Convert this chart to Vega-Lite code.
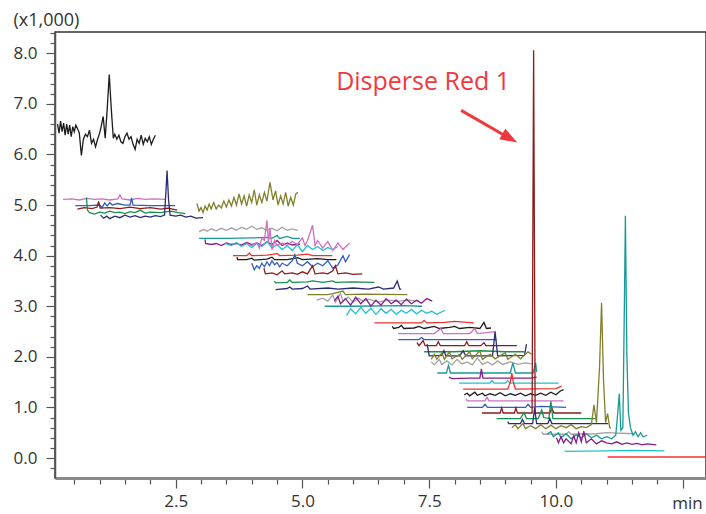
{
"$schema": "https://vega.github.io/schema/vega-lite/v6.json",
"width": 651, "height": 446,
"autosize": {"type": "none"},
"padding": {"left": 55, "top": 32, "right": 0, "bottom": 36},
"config": {"view": {"stroke": "#333333", "strokeWidth": 1.5}, "font": "Open Sans",
  "axis": {"grid": false, "labelFont": "Open Sans", "labelFontSize": 17, "labelColor": "#333333", "tickColor": "#555555", "tickWidth": 1.2, "titleFont": "Open Sans", "titleFontSize": 17, "titleFontWeight": "normal", "titleColor": "#333333"}},
"layer": [
{
"data": {"values": [
{"s":1,"x":0.17,"y":6.6},{"s":1,"x":0.2,"y":6.42},{"s":1,"x":0.23,"y":6.66},{"s":1,"x":0.26,"y":6.45},{"s":1,"x":0.29,"y":6.62},{"s":1,"x":0.32,"y":6.38},{"s":1,"x":0.35,"y":6.6},{"s":1,"x":0.38,"y":6.4},{"s":1,"x":0.41,"y":6.58},{"s":1,"x":0.44,"y":6.35},{"s":1,"x":0.47,"y":6.55},{"s":1,"x":0.5,"y":6.45},{"s":1,"x":0.53,"y":6.58},{"s":1,"x":0.57,"y":6.5},{"s":1,"x":0.6,"y":6.42},{"s":1,"x":0.64,"y":5.98},{"s":1,"x":0.68,"y":6.3},{"s":1,"x":0.72,"y":6.4},{"s":1,"x":0.76,"y":6.35},{"s":1,"x":0.8,"y":6.48},{"s":1,"x":0.84,"y":6.22},{"s":1,"x":0.88,"y":6.3},{"s":1,"x":0.92,"y":6.15},{"s":1,"x":0.96,"y":6.3},{"s":1,"x":1.0,"y":6.42},{"s":1,"x":1.03,"y":6.55},{"s":1,"x":1.07,"y":6.75},{"s":1,"x":1.11,"y":6.32},{"s":1,"x":1.15,"y":6.9},{"s":1,"x":1.19,"y":7.58},{"s":1,"x":1.23,"y":6.9},{"s":1,"x":1.27,"y":6.32},{"s":1,"x":1.3,"y":6.4},{"s":1,"x":1.34,"y":6.3},{"s":1,"x":1.38,"y":6.38},{"s":1,"x":1.42,"y":6.25},{"s":1,"x":1.46,"y":6.22},{"s":1,"x":1.5,"y":6.35},{"s":1,"x":1.54,"y":6.42},{"s":1,"x":1.58,"y":6.3},{"s":1,"x":1.62,"y":6.35},{"s":1,"x":1.66,"y":6.2},{"s":1,"x":1.7,"y":6.1},{"s":1,"x":1.74,"y":6.3},{"s":1,"x":1.78,"y":6.22},{"s":1,"x":1.82,"y":6.38},{"s":1,"x":1.86,"y":6.2},{"s":1,"x":1.9,"y":6.32},{"s":1,"x":1.94,"y":6.25},{"s":1,"x":1.98,"y":6.35},{"s":1,"x":2.02,"y":6.2},{"s":1,"x":2.06,"y":6.3},{"s":1,"x":2.1,"y":6.38},
{"s":2,"x":0.28,"y":5.11},{"s":2,"x":0.45,"y":5.12},{"s":2,"x":0.6,"y":5.1},{"s":2,"x":0.75,"y":5.13},{"s":2,"x":0.9,"y":5.11},{"s":2,"x":1.05,"y":5.12},{"s":2,"x":1.2,"y":5.1},{"s":2,"x":1.36,"y":5.12},{"s":2,"x":1.4,"y":5.2},{"s":2,"x":1.44,"y":5.12},{"s":2,"x":1.6,"y":5.1},{"s":2,"x":1.75,"y":5.13},{"s":2,"x":1.9,"y":5.11},{"s":2,"x":2.05,"y":5.12},{"s":2,"x":2.3,"y":5.11},
{"s":3,"x":0.52,"y":4.99},{"s":3,"x":0.8,"y":4.99},{"s":3,"x":1.0,"y":5.0},{"s":3,"x":1.05,"y":4.95},{"s":3,"x":1.1,"y":5.04},{"s":3,"x":1.15,"y":4.98},{"s":3,"x":1.2,"y":5.05},{"s":3,"x":1.25,"y":5.0},{"s":3,"x":1.35,"y":5.03},{"s":3,"x":1.5,"y":5.0},{"s":3,"x":1.6,"y":5.0},{"s":3,"x":1.63,"y":5.14},{"s":3,"x":1.66,"y":5.0},{"s":3,"x":2.0,"y":4.99},{"s":3,"x":2.49,"y":4.99},
{"s":4,"x":0.56,"y":4.92},{"s":4,"x":0.7,"y":4.95},{"s":4,"x":0.85,"y":4.93},{"s":4,"x":0.95,"y":4.96},{"s":4,"x":0.98,"y":5.07},{"s":4,"x":1.01,"y":4.94},{"s":4,"x":1.2,"y":4.95},{"s":4,"x":1.4,"y":4.93},{"s":4,"x":1.6,"y":4.96},{"s":4,"x":1.8,"y":4.93},{"s":4,"x":2.0,"y":4.95},{"s":4,"x":2.2,"y":4.92},{"s":4,"x":2.35,"y":4.94},{"s":4,"x":2.53,"y":4.9},
{"s":5,"x":0.74,"y":5.15},{"s":5,"x":0.76,"y":4.9},{"s":5,"x":0.8,"y":4.85},{"s":5,"x":0.9,"y":4.82},{"s":5,"x":1.0,"y":4.86},{"s":5,"x":1.1,"y":4.84},{"s":5,"x":1.2,"y":4.88},{"s":5,"x":1.3,"y":4.85},{"s":5,"x":1.4,"y":4.86},{"s":5,"x":1.5,"y":4.83},{"s":5,"x":1.6,"y":4.87},{"s":5,"x":1.7,"y":4.85},{"s":5,"x":1.8,"y":4.9},{"s":5,"x":1.9,"y":4.84},{"s":5,"x":2.0,"y":4.86},{"s":5,"x":2.2,"y":4.85},{"s":5,"x":2.4,"y":4.88},{"s":5,"x":2.55,"y":4.85},{"s":5,"x":2.69,"y":4.83},
{"s":6,"x":1.02,"y":4.8},{"s":6,"x":1.08,"y":4.74},{"s":6,"x":1.14,"y":4.78},{"s":6,"x":1.2,"y":4.73},{"s":6,"x":1.3,"y":4.78},{"s":6,"x":1.4,"y":4.75},{"s":6,"x":1.5,"y":4.8},{"s":6,"x":1.6,"y":4.76},{"s":6,"x":1.7,"y":4.79},{"s":6,"x":1.8,"y":4.75},{"s":6,"x":1.9,"y":4.78},{"s":6,"x":2.0,"y":4.76},{"s":6,"x":2.1,"y":4.79},{"s":6,"x":2.2,"y":4.77},{"s":6,"x":2.28,"y":4.8},{"s":6,"x":2.31,"y":5.3},{"s":6,"x":2.33,"y":5.68},{"s":6,"x":2.36,"y":5.1},{"s":6,"x":2.39,"y":4.8},{"s":6,"x":2.5,"y":4.78},{"s":6,"x":2.6,"y":4.8},{"s":6,"x":2.7,"y":4.76},{"s":6,"x":2.8,"y":4.78},{"s":6,"x":2.9,"y":4.74},{"s":6,"x":3.04,"y":4.75},
{"s":7,"x":2.92,"y":5.03},{"s":7,"x":2.96,"y":4.88},{"s":7,"x":3.0,"y":4.95},{"s":7,"x":3.04,"y":4.85},{"s":7,"x":3.08,"y":4.98},{"s":7,"x":3.12,"y":4.9},{"s":7,"x":3.16,"y":5.02},{"s":7,"x":3.2,"y":4.92},{"s":7,"x":3.25,"y":5.05},{"s":7,"x":3.3,"y":4.92},{"s":7,"x":3.35,"y":5.0},{"s":7,"x":3.4,"y":4.94},{"s":7,"x":3.45,"y":5.08},{"s":7,"x":3.5,"y":4.96},{"s":7,"x":3.55,"y":5.1},{"s":7,"x":3.6,"y":4.98},{"s":7,"x":3.65,"y":5.15},{"s":7,"x":3.7,"y":5.0},{"s":7,"x":3.75,"y":5.22},{"s":7,"x":3.8,"y":5.02},{"s":7,"x":3.85,"y":5.18},{"s":7,"x":3.9,"y":4.98},{"s":7,"x":3.95,"y":5.2},{"s":7,"x":4.0,"y":5.05},{"s":7,"x":4.05,"y":5.3},{"s":7,"x":4.1,"y":5.0},{"s":7,"x":4.15,"y":5.2},{"s":7,"x":4.2,"y":5.05},{"s":7,"x":4.25,"y":5.25},{"s":7,"x":4.3,"y":5.08},{"s":7,"x":4.36,"y":5.45},{"s":7,"x":4.42,"y":5.1},{"s":7,"x":4.47,"y":5.28},{"s":7,"x":4.52,"y":5.0},{"s":7,"x":4.57,"y":5.18},{"s":7,"x":4.62,"y":5.02},{"s":7,"x":4.67,"y":5.25},{"s":7,"x":4.72,"y":4.98},{"s":7,"x":4.77,"y":5.15},{"s":7,"x":4.82,"y":5.0},{"s":7,"x":4.87,"y":5.22},{"s":7,"x":4.91,"y":5.25},
{"s":8,"x":2.96,"y":4.47},{"s":8,"x":3.05,"y":4.52},{"s":8,"x":3.12,"y":4.48},{"s":8,"x":3.2,"y":4.53},{"s":8,"x":3.3,"y":4.49},{"s":8,"x":3.4,"y":4.54},{"s":8,"x":3.5,"y":4.5},{"s":8,"x":3.6,"y":4.55},{"s":8,"x":3.7,"y":4.5},{"s":8,"x":3.8,"y":4.56},{"s":8,"x":3.9,"y":4.52},{"s":8,"x":4.0,"y":4.58},{"s":8,"x":4.1,"y":4.52},{"s":8,"x":4.2,"y":4.55},{"s":8,"x":4.3,"y":4.5},{"s":8,"x":4.4,"y":4.54},{"s":8,"x":4.5,"y":4.49},{"s":8,"x":4.6,"y":4.56},{"s":8,"x":4.7,"y":4.5},{"s":8,"x":4.8,"y":4.53},{"s":8,"x":4.91,"y":4.5},
{"s":9,"x":2.96,"y":4.34},{"s":9,"x":3.5,"y":4.34},{"s":9,"x":4.0,"y":4.35},{"s":9,"x":4.3,"y":4.36},{"s":9,"x":4.4,"y":4.34},{"s":9,"x":4.5,"y":4.4},{"s":9,"x":4.55,"y":4.34},{"s":9,"x":4.7,"y":4.38},{"s":9,"x":4.8,"y":4.34},{"s":9,"x":4.95,"y":4.34},
{"s":10,"x":3.08,"y":4.32},{"s":10,"x":3.09,"y":4.24},{"s":10,"x":3.2,"y":4.22},{"s":10,"x":3.3,"y":4.24},{"s":10,"x":3.4,"y":4.2},{"s":10,"x":3.5,"y":4.25},{"s":10,"x":3.6,"y":4.22},{"s":10,"x":3.7,"y":4.24},{"s":10,"x":3.8,"y":4.21},{"s":10,"x":3.9,"y":4.26},{"s":10,"x":4.0,"y":4.22},{"s":10,"x":4.1,"y":4.25},{"s":10,"x":4.2,"y":4.2},{"s":10,"x":4.3,"y":4.27},{"s":10,"x":4.4,"y":4.22},{"s":10,"x":4.5,"y":4.3},{"s":10,"x":4.6,"y":4.2},{"s":10,"x":4.7,"y":4.25},{"s":10,"x":4.8,"y":4.21},{"s":10,"x":4.95,"y":4.23},
{"s":11,"x":3.47,"y":4.24},{"s":11,"x":3.6,"y":4.2},{"s":11,"x":3.7,"y":4.26},{"s":11,"x":3.8,"y":4.18},{"s":11,"x":3.9,"y":4.24},{"s":11,"x":4.0,"y":4.16},{"s":11,"x":4.1,"y":4.24},{"s":11,"x":4.2,"y":4.18},{"s":11,"x":4.3,"y":4.28},{"s":11,"x":4.4,"y":4.15},{"s":11,"x":4.5,"y":4.22},{"s":11,"x":4.6,"y":4.12},{"s":11,"x":4.7,"y":4.2},{"s":11,"x":4.8,"y":4.1},{"s":11,"x":4.9,"y":4.22},{"s":11,"x":5.0,"y":4.08},{"s":11,"x":5.1,"y":4.2},{"s":11,"x":5.2,"y":4.12},{"s":11,"x":5.3,"y":4.18},{"s":11,"x":5.4,"y":4.1},{"s":11,"x":5.5,"y":4.16},{"s":11,"x":5.6,"y":4.12},{"s":11,"x":5.7,"y":4.18},
{"s":12,"x":3.63,"y":4.0},{"s":12,"x":3.9,"y":4.0},{"s":12,"x":3.95,"y":4.05},{"s":12,"x":4.0,"y":4.0},{"s":12,"x":4.3,"y":4.01},{"s":12,"x":4.5,"y":4.04},{"s":12,"x":4.55,"y":4.0},{"s":12,"x":4.9,"y":4.01},{"s":12,"x":5.1,"y":4.03},{"s":12,"x":5.2,"y":4.0},{"s":12,"x":5.59,"y":4.0},
{"s":13,"x":3.71,"y":3.97},{"s":13,"x":3.72,"y":3.92},{"s":13,"x":3.9,"y":3.92},{"s":13,"x":4.0,"y":3.95},{"s":13,"x":4.05,"y":3.91},{"s":13,"x":4.3,"y":3.93},{"s":13,"x":4.4,"y":3.97},{"s":13,"x":4.45,"y":3.92},{"s":13,"x":4.7,"y":3.92},{"s":13,"x":4.9,"y":3.96},{"s":13,"x":5.0,"y":3.92},{"s":13,"x":5.3,"y":3.94},{"s":13,"x":5.5,"y":3.92},{"s":13,"x":5.67,"y":3.92},
{"s":14,"x":3.9,"y":4.24},{"s":14,"x":4.0,"y":4.2},{"s":14,"x":4.1,"y":4.26},{"s":14,"x":4.15,"y":4.15},{"s":14,"x":4.2,"y":4.35},{"s":14,"x":4.25,"y":4.3},{"s":14,"x":4.3,"y":4.7},{"s":14,"x":4.33,"y":4.25},{"s":14,"x":4.36,"y":4.55},{"s":14,"x":4.4,"y":4.12},{"s":14,"x":4.45,"y":4.3},{"s":14,"x":4.5,"y":4.2},{"s":14,"x":4.6,"y":4.25},{"s":14,"x":4.7,"y":4.2},{"s":14,"x":4.8,"y":4.28},{"s":14,"x":4.9,"y":4.22},{"s":14,"x":5.0,"y":4.35},{"s":14,"x":5.05,"y":4.2},{"s":14,"x":5.1,"y":4.3},{"s":14,"x":5.2,"y":4.6},{"s":14,"x":5.25,"y":4.2},{"s":14,"x":5.3,"y":4.3},{"s":14,"x":5.4,"y":4.15},{"s":14,"x":5.5,"y":4.28},{"s":14,"x":5.6,"y":4.1},{"s":14,"x":5.7,"y":4.25},{"s":14,"x":5.8,"y":4.12},{"s":14,"x":5.9,"y":4.22},{"s":14,"x":5.93,"y":4.25},
{"s":15,"x":4.0,"y":3.85},{"s":15,"x":4.05,"y":3.72},{"s":15,"x":4.1,"y":3.8},{"s":15,"x":4.15,"y":3.75},{"s":15,"x":4.2,"y":3.85},{"s":15,"x":4.25,"y":3.78},{"s":15,"x":4.3,"y":3.88},{"s":15,"x":4.35,"y":3.8},{"s":15,"x":4.4,"y":3.9},{"s":15,"x":4.45,"y":3.82},{"s":15,"x":4.5,"y":3.86},{"s":15,"x":4.55,"y":3.78},{"s":15,"x":4.6,"y":3.85},{"s":15,"x":4.7,"y":3.8},{"s":15,"x":4.8,"y":3.9},{"s":15,"x":4.85,"y":4.02},{"s":15,"x":4.9,"y":3.85},{"s":15,"x":5.0,"y":3.8},{"s":15,"x":5.1,"y":3.88},{"s":15,"x":5.2,"y":3.78},{"s":15,"x":5.3,"y":3.85},{"s":15,"x":5.4,"y":3.8},{"s":15,"x":5.5,"y":3.9},{"s":15,"x":5.6,"y":3.75},{"s":15,"x":5.7,"y":3.82},{"s":15,"x":5.8,"y":4.0},{"s":15,"x":5.85,"y":3.88},{"s":15,"x":5.93,"y":4.02},
{"s":16,"x":4.24,"y":3.75},{"s":16,"x":4.27,"y":3.64},{"s":16,"x":4.4,"y":3.66},{"s":16,"x":4.5,"y":3.62},{"s":16,"x":4.6,"y":3.7},{"s":16,"x":4.65,"y":3.64},{"s":16,"x":4.8,"y":3.66},{"s":16,"x":4.9,"y":3.63},{"s":16,"x":5.0,"y":3.68},{"s":16,"x":5.1,"y":3.64},{"s":16,"x":5.2,"y":3.8},{"s":16,"x":5.25,"y":3.64},{"s":16,"x":5.4,"y":3.66},{"s":16,"x":5.5,"y":3.64},{"s":16,"x":5.6,"y":3.7},{"s":16,"x":5.65,"y":3.8},{"s":16,"x":5.7,"y":3.64},{"s":16,"x":5.85,"y":3.66},{"s":16,"x":6.0,"y":3.63},{"s":16,"x":6.18,"y":3.64},
{"s":17,"x":4.45,"y":3.5},{"s":17,"x":4.47,"y":3.46},{"s":17,"x":4.7,"y":3.47},{"s":17,"x":4.75,"y":3.52},{"s":17,"x":4.8,"y":3.47},{"s":17,"x":5.1,"y":3.48},{"s":17,"x":5.2,"y":3.5},{"s":17,"x":5.4,"y":3.47},{"s":17,"x":5.6,"y":3.5},{"s":17,"x":5.65,"y":3.47},{"s":17,"x":6.0,"y":3.48},{"s":17,"x":6.42,"y":3.47},
{"s":18,"x":4.47,"y":3.33},{"s":18,"x":4.7,"y":3.35},{"s":18,"x":4.75,"y":3.38},{"s":18,"x":4.8,"y":3.34},{"s":18,"x":5.0,"y":3.35},{"s":18,"x":5.1,"y":3.4},{"s":18,"x":5.15,"y":3.34},{"s":18,"x":5.5,"y":3.36},{"s":18,"x":5.7,"y":3.34},{"s":18,"x":6.0,"y":3.36},{"s":18,"x":6.3,"y":3.34},{"s":18,"x":6.5,"y":3.38},{"s":18,"x":6.6,"y":3.34},{"s":18,"x":6.8,"y":3.36},{"s":18,"x":6.87,"y":3.5},{"s":18,"x":6.92,"y":3.34},{"s":18,"x":6.95,"y":3.34},
{"s":19,"x":5.1,"y":3.23},{"s":19,"x":5.5,"y":3.23},{"s":19,"x":5.6,"y":3.25},{"s":19,"x":5.8,"y":3.3},{"s":19,"x":5.85,"y":3.23},{"s":19,"x":6.2,"y":3.24},{"s":19,"x":7.07,"y":3.23},
{"s":20,"x":5.28,"y":3.12},{"s":20,"x":5.4,"y":3.16},{"s":20,"x":5.5,"y":3.1},{"s":20,"x":5.6,"y":3.22},{"s":20,"x":5.65,"y":3.08},{"s":20,"x":5.75,"y":3.25},{"s":20,"x":5.8,"y":3.1},{"s":20,"x":5.9,"y":3.18},{"s":20,"x":6.0,"y":3.08},{"s":20,"x":6.1,"y":3.16},{"s":20,"x":6.2,"y":3.1},{"s":20,"x":6.3,"y":3.14},{"s":20,"x":6.5,"y":3.08},{"s":20,"x":6.7,"y":3.12},{"s":20,"x":6.9,"y":3.1},{"s":20,"x":7.1,"y":3.12},{"s":20,"x":7.3,"y":3.1},
{"s":21,"x":5.44,"y":3.0},{"s":21,"x":6.0,"y":3.0},{"s":21,"x":7.0,"y":3.01},{"s":21,"x":7.36,"y":3.0},
{"s":22,"x":5.63,"y":3.1},{"s":22,"x":5.7,"y":3.2},{"s":22,"x":5.75,"y":3.05},{"s":22,"x":5.85,"y":3.15},{"s":22,"x":5.95,"y":3.02},{"s":22,"x":6.05,"y":3.18},{"s":22,"x":6.15,"y":3.05},{"s":22,"x":6.25,"y":3.15},{"s":22,"x":6.35,"y":3.0},{"s":22,"x":6.45,"y":3.12},{"s":22,"x":6.55,"y":3.02},{"s":22,"x":6.65,"y":3.15},{"s":22,"x":6.75,"y":3.05},{"s":22,"x":6.85,"y":3.12},{"s":22,"x":6.95,"y":3.03},{"s":22,"x":7.05,"y":3.14},{"s":22,"x":7.15,"y":3.05},{"s":22,"x":7.25,"y":3.12},{"s":22,"x":7.35,"y":3.06},{"s":22,"x":7.45,"y":3.15},{"s":22,"x":7.56,"y":3.1},
{"s":23,"x":5.87,"y":2.82},{"s":23,"x":5.95,"y":2.95},{"s":23,"x":6.05,"y":2.85},{"s":23,"x":6.15,"y":2.98},{"s":23,"x":6.25,"y":2.86},{"s":23,"x":6.35,"y":2.96},{"s":23,"x":6.45,"y":2.84},{"s":23,"x":6.55,"y":2.95},{"s":23,"x":6.65,"y":2.86},{"s":23,"x":6.75,"y":2.94},{"s":23,"x":6.85,"y":2.84},{"s":23,"x":6.95,"y":2.92},{"s":23,"x":7.05,"y":2.86},{"s":23,"x":7.15,"y":2.94},{"s":23,"x":7.25,"y":2.85},{"s":23,"x":7.35,"y":2.92},{"s":23,"x":7.45,"y":2.86},{"s":23,"x":7.55,"y":2.9},{"s":23,"x":7.65,"y":2.84},{"s":23,"x":7.81,"y":2.92},
{"s":24,"x":6.42,"y":2.67},{"s":24,"x":7.35,"y":2.67},{"s":24,"x":7.4,"y":2.72},{"s":24,"x":7.45,"y":2.67},{"s":24,"x":7.8,"y":2.68},{"s":24,"x":8.0,"y":2.7},{"s":24,"x":8.38,"y":2.67},
{"s":25,"x":6.77,"y":2.6},{"s":25,"x":6.8,"y":2.56},{"s":25,"x":6.9,"y":2.58},{"s":25,"x":6.95,"y":2.62},{"s":25,"x":7.0,"y":2.56},{"s":25,"x":7.2,"y":2.57},{"s":25,"x":7.3,"y":2.6},{"s":25,"x":7.4,"y":2.56},{"s":25,"x":7.6,"y":2.6},{"s":25,"x":7.7,"y":2.56},{"s":25,"x":7.9,"y":2.58},{"s":25,"x":8.0,"y":2.6},{"s":25,"x":8.1,"y":2.56},{"s":25,"x":8.3,"y":2.58},{"s":25,"x":8.5,"y":2.56},{"s":25,"x":8.58,"y":2.68},{"s":25,"x":8.63,"y":2.56},{"s":25,"x":8.72,"y":2.57},
{"s":26,"x":6.89,"y":2.46},{"s":26,"x":7.6,"y":2.46},{"s":26,"x":7.73,"y":2.56},{"s":26,"x":7.78,"y":2.46},{"s":26,"x":8.3,"y":2.46},{"s":26,"x":8.4,"y":2.56},{"s":26,"x":8.45,"y":2.46},{"s":26,"x":8.81,"y":2.5},
{"s":27,"x":6.89,"y":2.34},{"s":27,"x":7.3,"y":2.34},{"s":27,"x":7.35,"y":2.38},{"s":27,"x":7.4,"y":2.34},{"s":27,"x":8.6,"y":2.34},{"s":27,"x":8.83,"y":2.34},
{"s":28,"x":7.26,"y":2.28},{"s":28,"x":7.3,"y":2.22},{"s":28,"x":7.38,"y":2.32},{"s":28,"x":7.42,"y":2.22},{"s":28,"x":7.64,"y":2.22},{"s":28,"x":7.68,"y":2.3},{"s":28,"x":7.72,"y":2.22},{"s":28,"x":8.2,"y":2.22},{"s":28,"x":8.24,"y":2.3},{"s":28,"x":8.28,"y":2.22},{"s":28,"x":8.52,"y":2.22},{"s":28,"x":8.58,"y":2.28},{"s":28,"x":8.62,"y":2.22},{"s":28,"x":9.23,"y":2.22},
{"s":29,"x":7.4,"y":2.1},{"s":29,"x":8.0,"y":2.1},{"s":29,"x":8.5,"y":2.12},{"s":29,"x":9.0,"y":2.1},{"s":29,"x":9.38,"y":2.1},
{"s":30,"x":7.46,"y":2.25},{"s":30,"x":7.5,"y":2.02},{"s":30,"x":7.75,"y":2.03},{"s":30,"x":7.79,"y":2.12},{"s":30,"x":7.83,"y":2.02},{"s":30,"x":8.1,"y":2.02},{"s":30,"x":8.17,"y":2.12},{"s":30,"x":8.22,"y":2.02},{"s":30,"x":8.75,"y":2.02},{"s":30,"x":8.8,"y":2.5},{"s":30,"x":8.85,"y":2.02},{"s":30,"x":9.38,"y":2.03},{"s":30,"x":9.42,"y":2.25},
{"s":31,"x":7.54,"y":1.95},{"s":31,"x":7.6,"y":2.05},{"s":31,"x":7.65,"y":1.95},{"s":31,"x":7.75,"y":2.08},{"s":31,"x":7.8,"y":1.95},{"s":31,"x":7.9,"y":2.1},{"s":31,"x":7.95,"y":1.96},{"s":31,"x":8.1,"y":2.05},{"s":31,"x":8.15,"y":1.95},{"s":31,"x":8.3,"y":2.1},{"s":31,"x":8.35,"y":1.96},{"s":31,"x":8.5,"y":2.12},{"s":31,"x":8.55,"y":1.95},{"s":31,"x":8.7,"y":2.05},{"s":31,"x":8.8,"y":1.96},{"s":31,"x":9.0,"y":2.08},{"s":31,"x":9.05,"y":1.95},{"s":31,"x":9.2,"y":2.05},{"s":31,"x":9.3,"y":1.96},{"s":31,"x":9.45,"y":2.1},{"s":31,"x":9.52,"y":2.05},
{"s":32,"x":7.54,"y":1.9},{"s":32,"x":7.6,"y":1.84},{"s":32,"x":7.7,"y":1.95},{"s":32,"x":7.75,"y":1.85},{"s":32,"x":7.85,"y":1.92},{"s":32,"x":7.95,"y":1.84},{"s":32,"x":8.05,"y":1.95},{"s":32,"x":8.15,"y":1.86},{"s":32,"x":8.25,"y":1.9},{"s":32,"x":8.35,"y":1.84},{"s":32,"x":8.45,"y":1.98},{"s":32,"x":8.55,"y":1.85},{"s":32,"x":8.65,"y":1.9},{"s":32,"x":8.75,"y":1.84},{"s":32,"x":8.85,"y":1.92},{"s":32,"x":8.95,"y":1.85},{"s":32,"x":9.1,"y":1.9},{"s":32,"x":9.25,"y":1.85},{"s":32,"x":9.4,"y":1.88},{"s":32,"x":9.52,"y":1.86},
{"s":33,"x":7.66,"y":1.68},{"s":33,"x":7.84,"y":1.68},{"s":33,"x":7.88,"y":1.83},{"s":33,"x":7.92,"y":1.68},{"s":33,"x":9.1,"y":1.68},{"s":33,"x":9.15,"y":1.88},{"s":33,"x":9.2,"y":1.68},{"s":33,"x":9.55,"y":1.68},{"s":33,"x":9.6,"y":1.88},{"s":33,"x":9.62,"y":1.7},
{"s":34,"x":7.89,"y":1.6},{"s":34,"x":7.95,"y":1.57},{"s":34,"x":8.3,"y":1.58},{"s":34,"x":8.5,"y":1.58},{"s":34,"x":8.53,"y":1.76},{"s":34,"x":8.56,"y":1.58},{"s":34,"x":9.2,"y":1.58},{"s":34,"x":9.5,"y":1.58},{"s":34,"x":9.62,"y":1.6},
{"s":35,"x":8.09,"y":1.48},{"s":35,"x":8.7,"y":1.48},{"s":35,"x":8.74,"y":1.53},{"s":35,"x":8.78,"y":1.48},{"s":35,"x":9.0,"y":1.48},{"s":35,"x":9.05,"y":1.53},{"s":35,"x":9.1,"y":1.48},{"s":35,"x":10.05,"y":1.48},
{"s":36,"x":8.17,"y":1.36},{"s":36,"x":9.05,"y":1.36},{"s":36,"x":9.1,"y":1.5},{"s":36,"x":9.13,"y":1.68},{"s":36,"x":9.16,"y":1.5},{"s":36,"x":9.2,"y":1.36},{"s":36,"x":10.0,"y":1.37},{"s":36,"x":10.11,"y":1.42},
{"s":37,"x":8.19,"y":1.25},{"s":37,"x":8.25,"y":1.28},{"s":37,"x":8.3,"y":1.23},{"s":37,"x":8.4,"y":1.3},{"s":37,"x":8.45,"y":1.24},{"s":37,"x":8.55,"y":1.28},{"s":37,"x":8.6,"y":1.23},{"s":37,"x":8.7,"y":1.27},{"s":37,"x":8.8,"y":1.24},{"s":37,"x":8.9,"y":1.29},{"s":37,"x":9.0,"y":1.23},{"s":37,"x":9.1,"y":1.27},{"s":37,"x":9.2,"y":1.24},{"s":37,"x":9.3,"y":1.28},{"s":37,"x":9.4,"y":1.23},{"s":37,"x":9.5,"y":1.27},{"s":37,"x":9.6,"y":1.24},{"s":37,"x":9.7,"y":1.28},{"s":37,"x":9.8,"y":1.24},{"s":37,"x":9.9,"y":1.3},{"s":37,"x":10.0,"y":1.25},{"s":37,"x":10.08,"y":1.32},{"s":37,"x":10.15,"y":1.35},
{"s":38,"x":8.23,"y":1.17},{"s":38,"x":8.25,"y":1.13},{"s":38,"x":8.6,"y":1.13},{"s":38,"x":8.64,"y":1.2},{"s":38,"x":8.68,"y":1.13},{"s":38,"x":10.15,"y":1.13},
{"s":39,"x":8.25,"y":1.0},{"s":39,"x":8.55,"y":1.0},{"s":39,"x":8.6,"y":1.06},{"s":39,"x":8.65,"y":1.0},{"s":39,"x":9.4,"y":1.0},{"s":39,"x":9.45,"y":1.06},{"s":39,"x":9.5,"y":1.0},{"s":39,"x":9.7,"y":1.02},{"s":39,"x":10.2,"y":1.0},
{"s":40,"x":8.54,"y":0.89},{"s":40,"x":8.9,"y":0.89},{"s":40,"x":8.93,"y":0.99},{"s":40,"x":8.96,"y":0.89},{"s":40,"x":9.18,"y":0.89},{"s":40,"x":9.21,"y":0.99},{"s":40,"x":9.24,"y":0.89},{"s":40,"x":9.53,"y":0.89},{"s":40,"x":9.56,"y":8.06},{"s":40,"x":9.59,"y":0.89},{"s":40,"x":9.88,"y":0.89},{"s":40,"x":9.92,"y":0.99},{"s":40,"x":9.96,"y":0.89},{"s":40,"x":10.5,"y":0.89},
{"s":41,"x":8.83,"y":0.78},{"s":41,"x":9.3,"y":0.78},{"s":41,"x":9.37,"y":0.9},{"s":41,"x":9.42,"y":0.78},{"s":41,"x":9.65,"y":0.78},{"s":41,"x":9.72,"y":0.95},{"s":41,"x":9.76,"y":0.8},{"s":41,"x":9.86,"y":0.78},{"s":41,"x":9.9,"y":1.12},{"s":41,"x":9.94,"y":0.78},{"s":41,"x":10.78,"y":0.78},
{"s":42,"x":9.05,"y":0.72},{"s":42,"x":9.07,"y":0.68},{"s":42,"x":9.3,"y":0.68},{"s":42,"x":9.34,"y":0.76},{"s":42,"x":9.38,"y":0.68},{"s":42,"x":9.54,"y":0.68},{"s":42,"x":9.58,"y":0.98},{"s":42,"x":9.62,"y":0.68},{"s":42,"x":9.84,"y":0.68},{"s":42,"x":9.88,"y":0.78},{"s":42,"x":9.92,"y":0.68},{"s":42,"x":11.03,"y":0.68},
{"s":43,"x":9.13,"y":0.6},{"s":43,"x":9.2,"y":0.66},{"s":43,"x":9.25,"y":0.58},{"s":43,"x":9.35,"y":0.68},{"s":43,"x":9.4,"y":0.58},{"s":43,"x":9.5,"y":0.64},{"s":43,"x":9.6,"y":0.58},{"s":43,"x":9.7,"y":0.66},{"s":43,"x":9.8,"y":0.58},{"s":43,"x":9.9,"y":0.65},{"s":43,"x":10.0,"y":0.58},{"s":43,"x":10.1,"y":0.64},{"s":43,"x":10.2,"y":0.6},{"s":43,"x":10.3,"y":0.66},{"s":43,"x":10.4,"y":0.58},{"s":43,"x":10.5,"y":0.62},{"s":43,"x":10.6,"y":0.6},{"s":43,"x":10.7,"y":0.66},{"s":43,"x":10.75,"y":1.05},{"s":43,"x":10.8,"y":0.7},{"s":43,"x":10.86,"y":1.8},{"s":43,"x":10.9,"y":3.07},{"s":43,"x":10.94,"y":1.5},{"s":43,"x":10.98,"y":0.7},{"s":43,"x":11.02,"y":0.88},{"s":43,"x":11.06,"y":0.6},{"s":43,"x":11.09,"y":0.59},
{"s":44,"x":9.72,"y":0.52},{"s":44,"x":9.75,"y":0.47},{"s":44,"x":10.2,"y":0.47},{"s":44,"x":10.25,"y":0.52},{"s":44,"x":10.3,"y":0.47},{"s":44,"x":10.8,"y":0.48},{"s":44,"x":11.0,"y":0.5},{"s":44,"x":11.53,"y":0.48},
{"s":45,"x":9.82,"y":0.47},{"s":45,"x":9.9,"y":0.52},{"s":45,"x":9.95,"y":0.42},{"s":45,"x":10.05,"y":0.5},{"s":45,"x":10.1,"y":0.4},{"s":45,"x":10.2,"y":0.48},{"s":45,"x":10.3,"y":0.38},{"s":45,"x":10.4,"y":0.46},{"s":45,"x":10.5,"y":0.4},{"s":45,"x":10.6,"y":0.48},{"s":45,"x":10.7,"y":0.4},{"s":45,"x":10.8,"y":0.45},{"s":45,"x":10.9,"y":0.38},{"s":45,"x":11.0,"y":0.42},{"s":45,"x":11.1,"y":0.38},{"s":45,"x":11.18,"y":0.45},{"s":45,"x":11.22,"y":0.9},{"s":45,"x":11.25,"y":1.27},{"s":45,"x":11.28,"y":0.55},{"s":45,"x":11.32,"y":0.6},{"s":45,"x":11.35,"y":3.0},{"s":45,"x":11.37,"y":4.79},{"s":45,"x":11.4,"y":2.0},{"s":45,"x":11.43,"y":0.9},{"s":45,"x":11.47,"y":0.6},{"s":45,"x":11.52,"y":0.45},{"s":45,"x":11.57,"y":0.52},{"s":45,"x":11.62,"y":0.42},{"s":45,"x":11.67,"y":0.5},{"s":45,"x":11.72,"y":0.42},{"s":45,"x":11.8,"y":0.45},
{"s":46,"x":10.01,"y":0.4},{"s":46,"x":10.05,"y":0.3},{"s":46,"x":10.1,"y":0.42},{"s":46,"x":10.15,"y":0.3},{"s":46,"x":10.2,"y":0.38},{"s":46,"x":10.3,"y":0.28},{"s":46,"x":10.35,"y":0.44},{"s":46,"x":10.4,"y":0.3},{"s":46,"x":10.45,"y":0.5},{"s":46,"x":10.5,"y":0.32},{"s":46,"x":10.55,"y":0.53},{"s":46,"x":10.6,"y":0.3},{"s":46,"x":10.7,"y":0.38},{"s":46,"x":10.8,"y":0.28},{"s":46,"x":10.9,"y":0.34},{"s":46,"x":11.0,"y":0.3},{"s":46,"x":11.1,"y":0.28},{"s":46,"x":11.2,"y":0.32},{"s":46,"x":11.3,"y":0.27},{"s":46,"x":11.4,"y":0.3},{"s":46,"x":11.5,"y":0.27},{"s":46,"x":11.6,"y":0.29},{"s":46,"x":11.7,"y":0.26},{"s":46,"x":11.8,"y":0.28},{"s":46,"x":11.98,"y":0.26},
{"s":47,"x":10.17,"y":0.15},{"s":47,"x":10.2,"y":0.13},{"s":47,"x":11.0,"y":0.14},{"s":47,"x":11.5,"y":0.15},{"s":47,"x":12.14,"y":0.14},
{"s":48,"x":11.02,"y":0.02},{"s":48,"x":12.0,"y":0.02},{"s":48,"x":12.96,"y":0.02}
]},
"mark": {"type": "line", "strokeWidth": 1.3, "clip": true},
"encoding": {
"x": {"field": "x", "type": "quantitative", "scale": {"domain": [0.12, 12.96], "nice": false, "zero": false},
  "axis": {"orient": "bottom", "tickCount": 200, "values": [0.5,1,1.5,2,2.5,3,3.5,4,4.5,5,5.5,6,6.5,7,7.5,8,8.5,9,9.5,10,10.5,11,11.5,12,12.5],
    "labelExpr": "(datum.value % 2.5 == 0 && datum.value < 12) ? format(datum.value, '.1f') : ''",
    "tickSize": {"condition": {"test": "datum.value % 2.5 == 0", "value": 10}, "value": 6},
    "labelPadding": 5, "domainColor": "#8a8a8a", "domainWidth": 3, "labelFlush": false, "labelOverlap": false,
    "title": "min", "titleX": 632, "titleY": 25, "titleAlign": "center", "titleBaseline": "middle", "titleAnchor": null}},
"y": {"field": "y", "type": "quantitative", "scale": {"domain": [-0.395, 8.42], "nice": false, "zero": false},
  "axis": {"orient": "left", "tickCount": 200, "values": [-0.4,-0.2,0,0.2,0.4,0.6,0.8,1,1.2,1.4,1.6,1.8,2,2.2,2.4,2.6,2.8,3,3.2,3.4,3.6,3.8,4,4.2,4.4,4.6,4.8,5,5.2,5.4,5.6,5.8,6,6.2,6.4,6.6,6.8,7,7.2,7.4,7.6,7.8,8,8.2,8.4],
    "labelExpr": "abs(datum.value - round(datum.value)) < 0.001 ? format(datum.value, '.1f') : ''",
    "tickSize": {"condition": {"test": "abs(datum.value - round(datum.value)) < 0.001", "value": 9}, "value": 5},
    "labelPadding": 9, "domainColor": "#555555", "domainWidth": 1.5, "labelFlush": false, "labelOverlap": false, "labelBaseline": "middle",
    "title": "(x1,000)", "titleAngle": 0, "titleX": -42, "titleY": -12, "titleAlign": "left", "titleBaseline": "middle", "titleAnchor": null, "titleFontSize": 18}},
"color": {"field": "s", "type": "nominal", "legend": null,
  "scale": {"domain": [1,2,3,4,5,6,7,8,9,10,11,12,13,14,15,16,17,18,19,20,21,22,23,24,25,26,27,28,29,30,31,32,33,34,35,36,37,38,39,40,41,42,43,44,45,46,47,48],
  "range": ["#1c1c1c","#d070c0","#2f5fbf","#8c1c1c","#15904f","#2c2c72","#80802c","#a3a3a3","#179a96","#881c8a","#1fc1d1","#f0302c",
            "#1c1c1c","#d070c0","#2f5fbf","#8c1c1c","#15904f","#2c2c72","#80802c","#a3a3a3","#179a96","#881c8a","#1fc1d1","#f0302c",
            "#1c1c1c","#d070c0","#2f5fbf","#8c1c1c","#15904f","#2c2c72","#80802c","#a3a3a3","#179a96","#881c8a","#1fc1d1","#f0302c",
            "#1c1c1c","#d070c0","#2f5fbf","#8c1c1c","#15904f","#2c2c72","#80802c","#a3a3a3","#179a96","#881c8a","#1fc1d1","#f0302c"]}}
}
},
{
"data": {"values": [{"x": 7.38, "y": 7.43, "t": "Disperse Red 1"}]},
"mark": {"type": "text", "fontSize": 25, "font": "Open Sans", "color": "#ee3a3e", "baseline": "middle", "align": "center"},
"encoding": {
"x": {"field": "x", "type": "quantitative"},
"y": {"field": "y", "type": "quantitative"},
"text": {"field": "t", "type": "nominal"}
}
},
{
"data": {"values": [{"x": 8.13, "y": 6.87, "x2": 9.05, "y2": 6.34}]},
"mark": {"type": "rule", "color": "#ee3a3e", "strokeWidth": 3},
"encoding": {"x": {"field": "x", "type": "quantitative"}, "y": {"field": "y", "type": "quantitative"}, "x2": {"field": "x2"}, "y2": {"field": "y2"}}
},
{
"data": {"values": [{"x": 9.09, "y": 6.32}]},
"mark": {"type": "point", "shape": "M0,-1L0.7,1L-0.7,1Z", "size": 300, "angle": 120, "filled": true, "color": "#ee3a3e", "opacity": 1},
"encoding": {"x": {"field": "x", "type": "quantitative"}, "y": {"field": "y", "type": "quantitative"}}
}
]
}
